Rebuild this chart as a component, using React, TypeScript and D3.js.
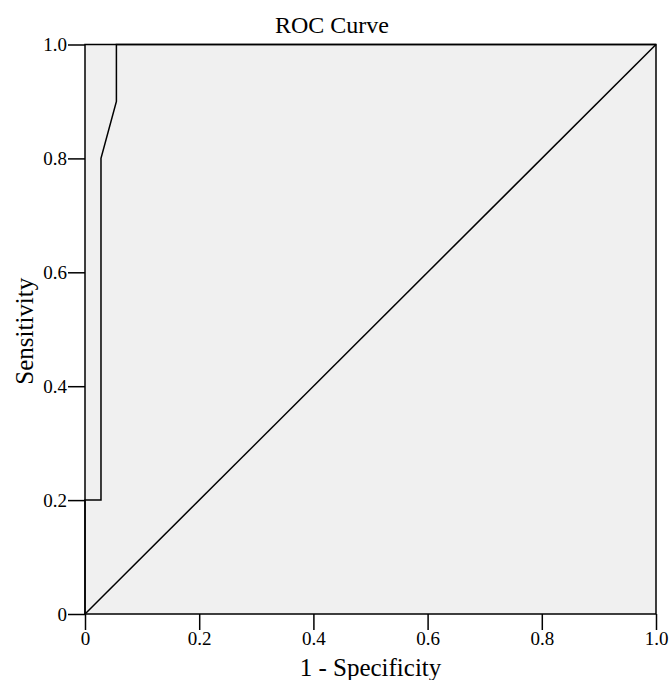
import React, { useRef, useEffect } from "react";
import * as d3 from "d3";

// ROC points
const fpr = [0, 0, 0.028, 0.028, 0.055, 0.055, 1];
const tpr = [0, 0.2, 0.2, 0.8, 0.9, 1.0, 1.0];
const tickValues = [0, 0.2, 0.4, 0.6, 0.8, 1.0];
const diagonal = [0, 1];

const TITLE = "ROC Curve";
const X_LABEL = "1 - Specificity";
const Y_LABEL = "Sensitivity";

function drawChart(svgEl: SVGSVGElement, width: number, height: number) {
  const margin = { top: 44.5, right: 14, bottom: 66, left: 85 };
  const innerW = width - margin.left - margin.right;
  const innerH = height - margin.top - margin.bottom;
  const font = "Liberation Serif";

  const svg = d3.select(svgEl);
  svg.selectAll("*").remove();

  const g = svg
    .append("g")
    .attr("transform", `translate(${margin.left}, ${margin.top})`);

  const x = d3.scaleLinear().domain([0, 1]).range([0, innerW]);
  const y = d3.scaleLinear().domain([0, 1]).range([innerH, 0]);

  // plot background
  g.append("rect")
    .attr("width", innerW)
    .attr("height", innerH)
    .attr("fill", "#f0f0f0");

  const fmt = (d: d3.NumberValue) => (+d === 0 ? "0" : d3.format(".1f")(+d));

  // axes
  const xAxis = g
    .append("g")
    .attr("transform", `translate(0, ${innerH})`)
    .call(
      d3.axisBottom(x).tickValues(tickValues).tickSize(16).tickPadding(2).tickFormat(fmt)
    );
  const yAxis = g
    .append("g")
    .call(
      d3.axisLeft(y).tickValues(tickValues).tickSize(17).tickPadding(1).tickFormat(fmt)
    );

  [xAxis, yAxis].forEach((ax) => {
    ax.attr("font-family", font).attr("font-size", 19);
    ax.select(".domain").remove();
    ax.selectAll("line").attr("stroke", "#000").attr("stroke-width", 1.5);
    ax.selectAll("text").attr("fill", "#000");
  });

  // frame
  g.append("rect")
    .attr("width", innerW)
    .attr("height", innerH)
    .attr("fill", "none")
    .attr("stroke", "#000")
    .attr("stroke-width", 1.5);

  // reference diagonal
  const line = d3
    .line<number>()
    .x((d) => x(d))
    .y((d) => y(d));
  g.append("path")
    .datum(diagonal)
    .attr("d", line)
    .attr("fill", "none")
    .attr("stroke", "#000")
    .attr("stroke-width", 1.5);

  // ROC curve
  const rocLine = d3
    .line<number>()
    .x((d) => x(fpr[d]))
    .y((d) => y(tpr[d]));
  g.append("path")
    .datum(d3.range(fpr.length))
    .attr("d", rocLine)
    .attr("fill", "none")
    .attr("stroke", "#000")
    .attr("stroke-width", 1.5);

  // title and labels
  svg
    .append("text")
    .attr("x", 332)
    .attr("y", 33)
    .attr("text-anchor", "middle")
    .attr("font-family", font)
    .attr("font-size", 24)
    .text(TITLE);

  g.append("text")
    .attr("x", innerW / 2)
    .attr("y", innerH + 62)
    .attr("text-anchor", "middle")
    .attr("font-family", font)
    .attr("font-size", 25)
    .text(X_LABEL);

  g.append("text")
    .attr("transform", `translate(${-margin.left + 33}, ${innerH / 2 + 2}) rotate(-90)`)
    .attr("text-anchor", "middle")
    .attr("font-family", font)
    .attr("font-size", 25)
    .text(Y_LABEL);
}

export default function App() {
  const ref = useRef<SVGSVGElement>(null);
  const width = 670;
  const height = 680;

  useEffect(() => {
    if (ref.current == null) {
      return;
    }
    drawChart(ref.current, width, height);
  }, []);

  return (
    <svg
      ref={ref}
      width={width}
      height={height}
      style={{ position: "absolute", left: 0, top: 0, background: "#fff" }}
    ></svg>
  );
}
